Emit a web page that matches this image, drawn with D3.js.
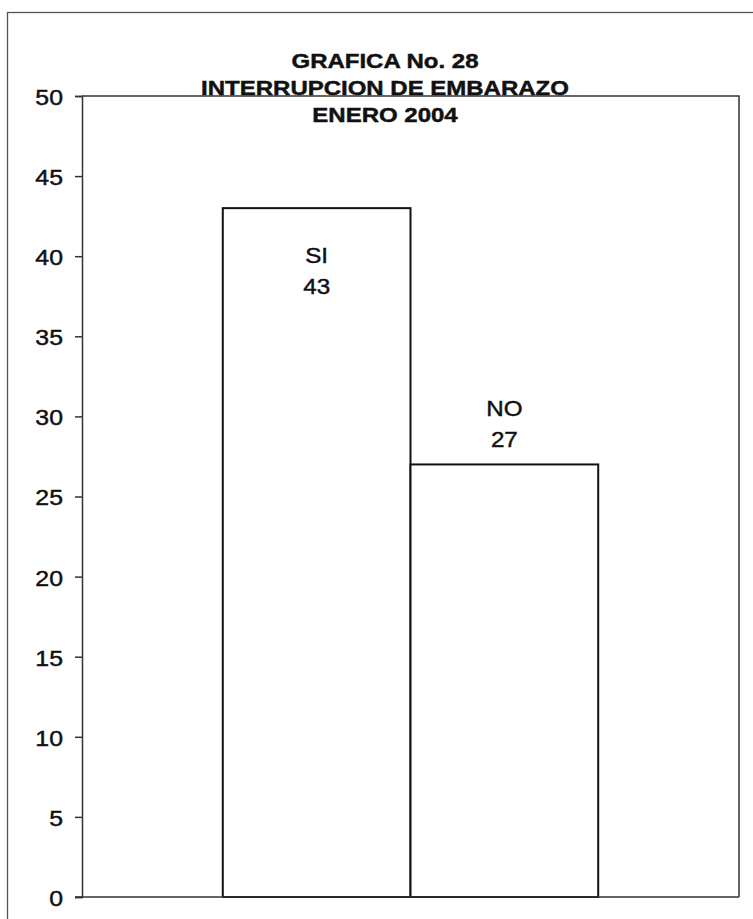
<!DOCTYPE html>
<html>
<head>
<meta charset="utf-8">
<script src="https://cdn.jsdelivr.net/npm/d3@7"></script>
<style>
  html, body { margin: 0; padding: 0; background: #fff; }
  svg { display: block; }
  text { font-family: "Liberation Sans", Arial, sans-serif; fill: #111; stroke: #111; stroke-width: 0.45; }
</style>
</head>
<body>
<svg id="chart" width="753" height="919"></svg>
<script>
// Chart data
const titleLines = ["GRAFICA No. 28", "INTERRUPCION DE EMBARAZO", "ENERO 2004"];
const categories = ["ENERO 2004"];
const seriesNames = ["SI", "NO"];
const seriesValues = [43, 27];
const yTicks = [0, 5, 10, 15, 20, 25, 30, 35, 40, 45, 50];

const svg = d3.select("#chart");
const W = 753, H = 919;
const plot = { left: 82, top: 96, right: 739, bottom: 897 };

// Frame around the whole chart
svg.append("rect")
  .attr("x", 7.5).attr("y", 12.5)
  .attr("width", W + 40).attr("height", H + 40)
  .attr("fill", "none").attr("stroke", "#555").attr("stroke-width", 1.3);

const y = d3.scaleLinear().domain([0, 50]).range([plot.bottom, plot.top]);

// One category holding two side-by-side series; the gap is 150% of a bar width
const x0 = d3.scaleBand().domain(categories).range([plot.left, plot.right])
  .paddingInner(0).paddingOuter(0.375);
const x1 = d3.scaleBand().domain(seriesNames).range([0, x0.bandwidth()]).padding(0);

// Plot area outline (top and right)
svg.append("path")
  .attr("d", `M${plot.left},${plot.top}H${plot.right}V${plot.bottom}`)
  .attr("fill", "none").attr("stroke", "#333").attr("stroke-width", 1.5);

const rows = seriesNames.map((n, i) => ({ cat: categories[0], name: n, value: seriesValues[i], i }));

// Bars
const bars = svg.append("g").attr("transform", `translate(${x0(categories[0])},0)`);
bars.selectAll("rect")
  .data(rows)
  .join("rect")
  .attr("x", d => x1(d.name))
  .attr("y", d => y(d.value))
  .attr("width", x1.bandwidth())
  .attr("height", d => y(0) - y(d.value))
  .attr("fill", "#fff")
  .attr("stroke", "#111")
  .attr("stroke-width", 2);

// Data labels: series name over value; the tall bar carries its label inside
const labelOffset = [86, -17];
const labels = bars.selectAll("g.lbl")
  .data(rows)
  .join("g").attr("class", "lbl")
  .attr("transform", d => `translate(${x1(d.name) + x1.bandwidth() / 2},${y(d.value) + labelOffset[d.i]})`);
labels.append("text")
  .attr("text-anchor", "middle")
  .attr("transform", "translate(0,-31) scale(1.1,1)")
  .style("font-size", "22px")
  .text(d => d.name);
labels.append("text")
  .attr("text-anchor", "middle")
  .attr("transform", "scale(1.1,1)")
  .style("font-size", "22px")
  .text(d => d.value);

// Y axis
const yAxis = svg.append("g")
  .attr("transform", `translate(${plot.left},0)`)
  .call(d3.axisLeft(y).tickValues(yTicks).tickSize(7).tickPadding(0).tickFormat(d3.format("d")));
yAxis.select(".domain").attr("stroke", "#333").attr("stroke-width", 1.5);
yAxis.selectAll(".tick line").attr("stroke", "#333").attr("stroke-width", 1.5);
yAxis.selectAll(".tick text")
  .attr("x", null).attr("dy", null)
  .attr("dominant-baseline", "central")
  .attr("text-anchor", "end")
  .attr("transform", "translate(-19,1) scale(1.13,1)")
  .style("font-size", "22px")
  .style("font-family", "'Liberation Sans', Arial, sans-serif")
  .attr("fill", "#111");

// X axis baseline
svg.append("line")
  .attr("x1", plot.left - 7).attr("x2", plot.right)
  .attr("y1", y(0)).attr("y2", y(0))
  .attr("stroke", "#333").attr("stroke-width", 1.5);

// Title
const title = svg.append("g").attr("transform", "translate(385,0)");
title.selectAll("text")
  .data(titleLines)
  .join("text")
  .attr("text-anchor", "middle")
  .attr("transform", (d, i) => `translate(0,${68 + i * 27}) scale(1.2,1)`)
  .style("font-size", "20px")
  .style("font-weight", "bold")
  .text(d => d);
</script>
</body>
</html>
